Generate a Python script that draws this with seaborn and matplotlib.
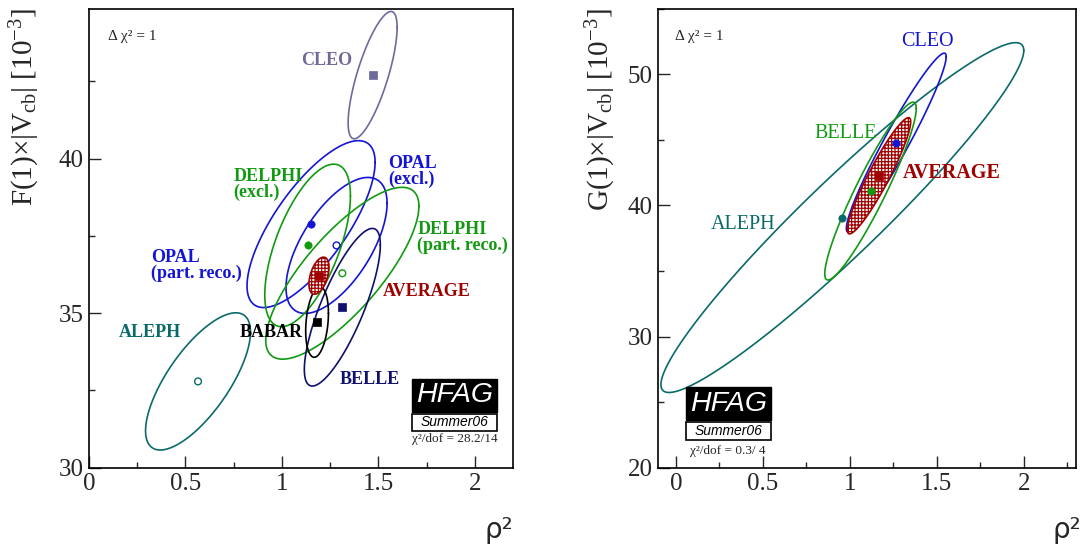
import numpy as np
import matplotlib
matplotlib.use("Agg")
import matplotlib.pyplot as plt
import seaborn as sns
from matplotlib.patches import Rectangle
from matplotlib.ticker import MultipleLocator

# ==========================
# DATA  (centre, sigma_x, sigma_y, correlation)
# ==========================

f_names = ["CLEO", "OPAL_excl", "OPAL_part", "DELPHI_excl", "DELPHI_part",
           "BELLE", "BABAR", "ALEPH", "AVERAGE"]
f_rho2 = [1.47, 1.151, 1.283, 1.133, 1.313, 1.313, 1.182, 0.565, 1.192]
f_val = [42.70, 37.88, 37.19, 37.19, 36.29, 35.19, 34.71, 32.79, 36.21]
f_sx = [0.127, 0.332, 0.262, 0.222, 0.397, 0.197, 0.059, 0.272, 0.052]
f_sy = [2.06, 2.70, 2.20, 2.63, 2.78, 2.55, 1.14, 2.22, 0.60]
f_corr = [0.75, 0.74, 0.62, 0.61, 0.78, 0.79, 0.25, 0.72, 0.45]
f_marker = ["s", "o", "o_open", "o", "o_open", "s", "s", "o_open", "s"]

g_names = ["ALEPH", "CLEO", "BELLE", "AVERAGE"]
g_rho2 = [0.957, 1.267, 1.119, 1.168]
g_val = [39.07, 44.79, 41.09, 42.26]
g_sx = [1.043, 0.287, 0.263, 0.182]
g_sy = [13.34, 6.82, 6.78, 4.43]
g_corr = [0.955, 0.96, 0.93, 0.93]
g_marker = ["o", "o", "o", "s"]

COL = {
    "CLEO": "#6f6a9c", "OPAL_excl": "#1414d4", "OPAL_part": "#1414d4",
    "DELPHI_excl": "#119a11", "DELPHI_part": "#119a11", "BELLE": "#10106e",
    "BABAR": "#000000", "ALEPH": "#0a6a6a", "AVERAGE": "#a00000",
}
G_COL = {"ALEPH": "#0a6a6a", "CLEO": "#1414d4", "BELLE": "#119a11",
         "AVERAGE": "#a00000"}

# ==========================
# STYLE
# ==========================

sns.set_theme(style="ticks")
plt.rcParams["font.family"] = ["Liberation Serif", "DejaVu Serif"]
plt.rcParams["mathtext.fontset"] = "custom"
plt.rcParams["mathtext.rm"] = "Liberation Serif"
plt.rcParams["mathtext.it"] = "Liberation Serif:italic"
plt.rcParams["hatch.linewidth"] = 0.9
plt.rcParams["axes.linewidth"] = 1.2


def contour(x0, y0, sx, sy, r):
    t = np.linspace(0, 2 * np.pi, 361)
    x = x0 + sx * np.cos(t)
    y = y0 + sy * (r * np.cos(t) + np.sqrt(1 - r * r) * np.sin(t))
    return x, y


def draw_panel(ax, names, xs, ys, sxs, sys_, rs, markers, colors):
    for n, x0, y0, sx, sy, r in zip(names, xs, ys, sxs, sys_, rs):
        ex, ey = contour(x0, y0, sx, sy, r)
        if n == "AVERAGE":
            ax.fill(ex, ey, facecolor="white", edgecolor=colors[n],
                    hatch="+++++", lw=1.2, zorder=3)
        else:
            sns.lineplot(x=ex, y=ey, sort=False, estimator=None,
                         color=colors[n], lw=1.2, ax=ax, zorder=2)
    for n, x0, y0, m in zip(names, xs, ys, markers):
        c = colors[n]
        if m == "o_open":
            sns.scatterplot(x=[x0], y=[y0], marker="o", s=24,
                            facecolor="none", edgecolor=c, linewidth=1.0,
                            ax=ax, zorder=5)
        else:
            sns.scatterplot(x=[x0], y=[y0], marker=m, s=28, color=c,
                            edgecolor=c, linewidth=0.5, ax=ax, zorder=5)


def style_axes(ax, xmaj, xmin, ymaj, ymin):
    ax.xaxis.set_major_locator(MultipleLocator(xmaj))
    ax.xaxis.set_minor_locator(MultipleLocator(xmin))
    ax.yaxis.set_major_locator(MultipleLocator(ymaj))
    ax.yaxis.set_minor_locator(MultipleLocator(ymin))
    ax.tick_params(which="major", direction="in", length=8.6, width=1.0,
                   labelsize=18, top=False, right=False, pad=4)
    ax.tick_params(which="minor", direction="in", length=4.3, width=1.0,
                   top=False, right=False)
    ax.xaxis.set_major_formatter(plt.FuncFormatter(lambda v, p: f"{v:g}"))
    for s in ax.spines.values():
        s.set_visible(True)
        s.set_color("black")
    ax.set_xlabel("")
    ax.set_ylabel("")


def hfag_box(ax, x0, x1, yb0, yb1, yw0, yw1, chi_x, chi_y, chi_txt):
    ax.add_patch(Rectangle((x0, yb0), x1 - x0, yb1 - yb0,
                           transform=ax.transAxes, facecolor="black",
                           edgecolor="black", zorder=6))
    ax.add_patch(Rectangle((x0, yw0), x1 - x0, yw1 - yw0,
                           transform=ax.transAxes, facecolor="white",
                           edgecolor="black", lw=1.2, zorder=6))
    ax.text((x0 + x1) / 2, (yb0 + yb1) / 2, "HFAG", transform=ax.transAxes,
            color="white", fontsize=20.5, style="italic",
            family="Liberation Sans", ha="center", va="center", zorder=7)
    ax.text((x0 + x1) / 2, (yw0 + yw1) / 2, "Summer06",
            transform=ax.transAxes, color="black", fontsize=10,
            style="italic", family="Liberation Sans", ha="center",
            va="center", zorder=7)
    ax.text(chi_x, chi_y, chi_txt, transform=ax.transAxes, fontsize=9.5,
            ha="center", va="center", zorder=7)


# ==========================
# FIGURE
# ==========================

fig = plt.figure(figsize=(10.83, 5.47), dpi=100)
ax1 = fig.add_axes([0.0822, 0.1451, 0.3919, 0.8390])
ax2 = fig.add_axes([0.608, 0.1451, 0.3855, 0.8390])

# ---- left panel: F(1)|Vcb|
draw_panel(ax1, f_names, f_rho2, f_val, f_sx, f_sy, f_corr, f_marker, COL)
ax1.set_xlim(0, 2.2)
ax1.set_ylim(30, 44.85)
style_axes(ax1, 0.5, 0.25, 5, 2.5)

lab_kw = dict(fontsize=13, fontweight="bold", ha="left", va="center",
              linespacing=0.9)
ax1.text(1.10, 43.18, "CLEO", color=COL["CLEO"], **lab_kw)
ax1.text(1.552, 39.57, "OPAL\n(excl.)", color=COL["OPAL_excl"], **lab_kw)
ax1.text(0.750, 39.16, "DELPHI\n(excl.)", color=COL["DELPHI_excl"], **lab_kw)
ax1.text(1.702, 37.44, "DELPHI\n(part. reco.)", color=COL["DELPHI_part"],
         **lab_kw)
ax1.text(0.320, 36.53, "OPAL\n(part. reco.)", color=COL["OPAL_part"], **lab_kw)
ax1.text(1.521, 35.70, "AVERAGE", color=COL["AVERAGE"], **lab_kw)
ax1.text(0.154, 34.38, "ALEPH", color=COL["ALEPH"], **lab_kw)
ax1.text(0.782, 34.38, "BABAR", color=COL["BABAR"], **lab_kw)
ax1.text(1.301, 32.86, "BELLE", color=COL["BELLE"], **lab_kw)
ax1.text(0.099, 43.94, "Δ χ² = 1", fontsize=11, ha="left", va="center")

ax1.text(-0.15, 1.0, r"F(1)$\times$|V$_{\mathrm{cb}}$| [10$^{\mathrm{-3}}$]",
         transform=ax1.transAxes, rotation=90, fontsize=21, ha="center",
         va="top")
ax1.text(1.0, -0.136, "ρ²", transform=ax1.transAxes, fontsize=20,
         family="DejaVu Sans", ha="right", va="center")
hfag_box(ax1, 0.760, 0.9616, 0.1218, 0.194, 0.080, 0.1179, 0.861, 0.0623,
         "χ²/dof = 28.2/14")

# ---- right panel: G(1)|Vcb|
draw_panel(ax2, g_names, g_rho2, g_val, g_sx, g_sy, g_corr, g_marker, G_COL)
ax2.set_xlim(-0.1, 2.3)
ax2.set_ylim(20, 55)
style_axes(ax2, 0.5, 0.25, 10, 5)

lab2 = dict(fontsize=14.5, ha="left", va="center")
ax2.text(1.297, 52.5, "CLEO", color=G_COL["CLEO"], **lab2)
ax2.text(0.798, 45.48, "BELLE", color=G_COL["BELLE"], **lab2)
ax2.text(1.303, 42.5, "AVERAGE", color=G_COL["AVERAGE"], fontweight="bold",
         **lab2)
ax2.text(0.198, 38.54, "ALEPH", color=G_COL["ALEPH"], **lab2)
ax2.text(-0.004, 52.85, "Δ χ² = 1", fontsize=11, ha="left", va="center")

ax2.text(-0.138, 1.0, r"G(1)$\times$|V$_{\mathrm{cb}}$| [10$^{\mathrm{-3}}$]",
         transform=ax2.transAxes, rotation=90, fontsize=21, ha="center",
         va="top")
ax2.text(1.013, -0.136, "ρ²", transform=ax2.transAxes, fontsize=20,
         family="DejaVu Sans", ha="right", va="center")
hfag_box(ax2, 0.067, 0.270, 0.103, 0.175, 0.061, 0.099, 0.165, 0.036,
         "χ²/dof = 0.3/ 4")

plt.savefig("out.png", dpi=100)
